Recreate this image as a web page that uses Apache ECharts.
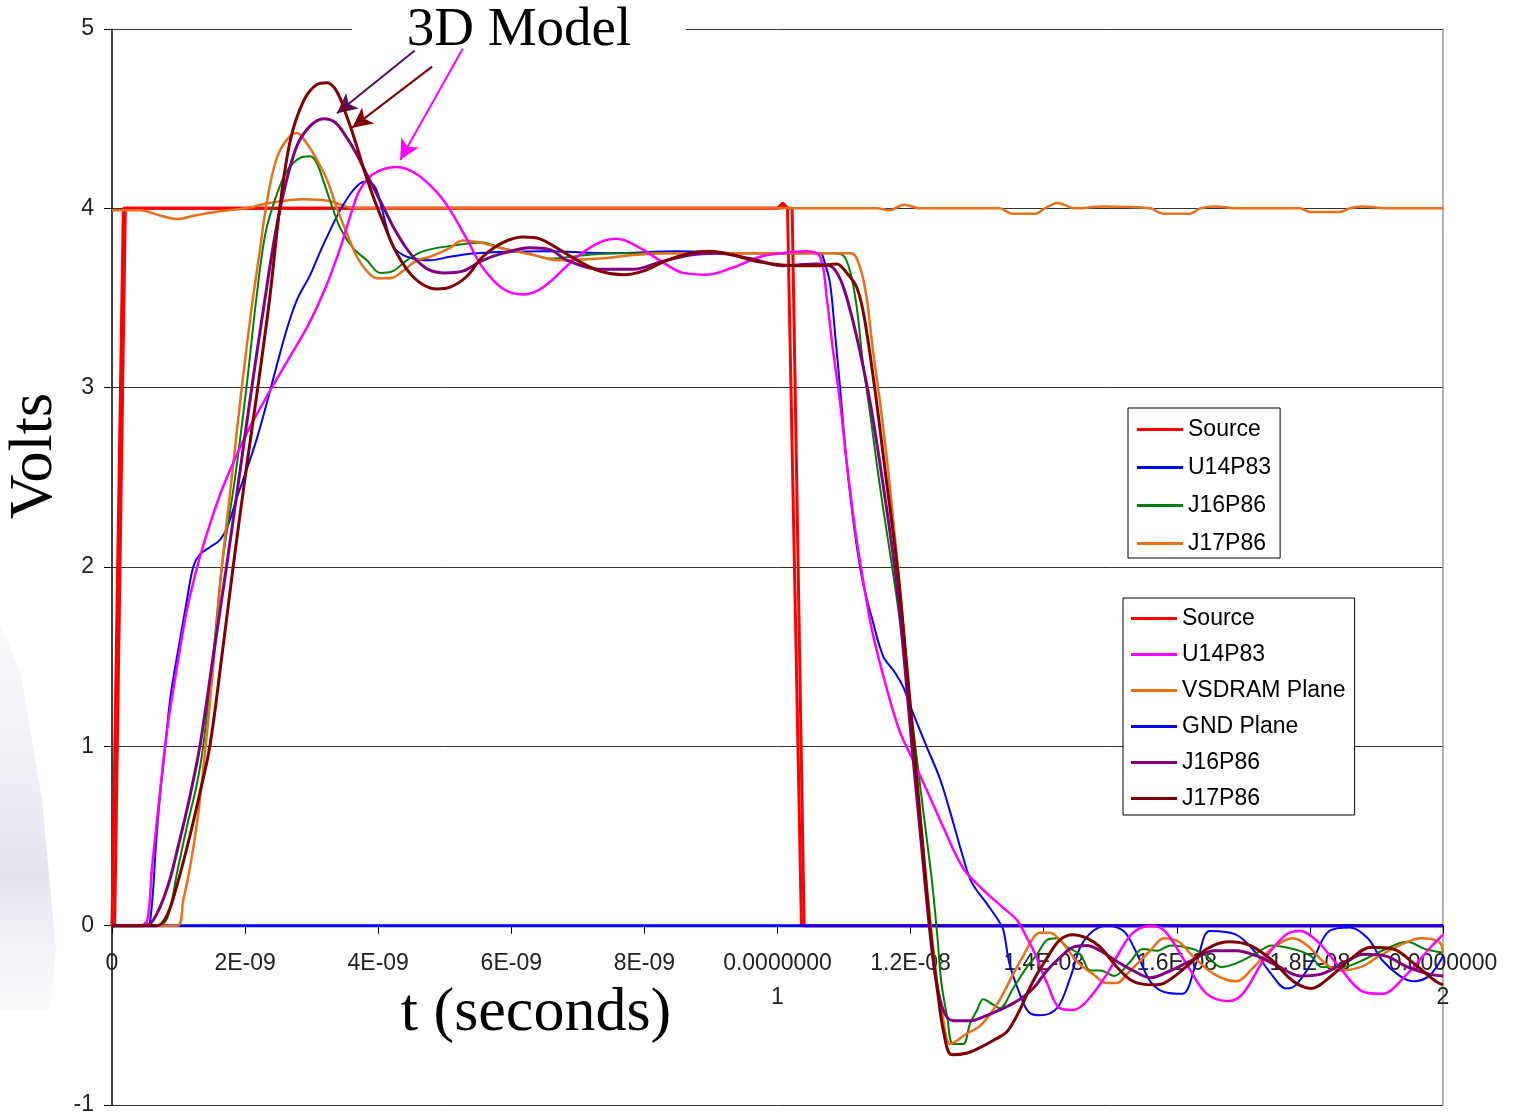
<!DOCTYPE html>
<html>
<head>
<meta charset="utf-8">
<title>3D Model vs measured</title>
<script src="https://cdn.jsdelivr.net/npm/echarts@6.0.0/dist/echarts.min.js"></script>
<style>
  html, body { margin: 0; padding: 0; background: #fff; }
  #chart { width: 1514px; height: 1115px; }
</style>
</head>
<body>
<div id="chart"></div>
<script>
// time in ns, volts
var xTickLabels = ['0', '2E-09', '4E-09', '6E-09', '8E-09', '0.0000000\n1', '1.2E-08', '1.4E-08', '1.6E-08', '1.8E-08', '0.0000000\n2'];

// measured set
var sourceMeas = [[0,0],[0.02,0],[0.17,4],[10.0,4],[10.08,4.03],[10.15,4],[10.18,4],[10.36,0],[20,0]];
var u14Meas = [[0,0],[0.53,0],[0.57,0.02],[0.62,0.21],[0.66,0.45],[0.72,0.72],[0.80,1.0],[0.88,1.28],[1.0,1.55],[1.10,1.76],[1.22,2.0],[1.32,2.07],[1.47,2.11],[1.62,2.15],[1.73,2.22],[1.88,2.39],[2.03,2.55],[2.18,2.72],[2.33,2.92],[2.48,3.13],[2.63,3.33],[2.78,3.49],[2.98,3.63],[3.13,3.76],[3.28,3.88],[3.43,3.99],[3.58,4.08],[3.73,4.14],[3.83,4.15],[3.95,4.12],[4.04,4.02],[4.13,3.89],[4.22,3.79],[4.43,3.73],[4.78,3.71],[5.08,3.73],[5.48,3.75],[6.5,3.76],[7.5,3.75],[8.5,3.76],[9.5,3.75],[10.64,3.75],[10.70,3.71],[10.79,3.58],[10.86,3.32],[10.94,3.00],[11.04,2.58],[11.16,2.20],[11.28,1.92],[11.43,1.70],[11.59,1.50],[11.75,1.42],[11.89,1.33],[12.02,1.20],[12.25,0.99],[12.44,0.82],[12.59,0.64],[12.79,0.38],[12.92,0.24],[13.15,0.12],[13.30,0.04],[13.39,-0.02],[13.49,-0.22],[13.64,-0.38],[13.77,-0.48],[13.94,-0.50],[14.20,-0.46],[14.40,-0.29],[14.55,-0.12],[14.74,-0.03],[14.95,0.0],[15.2,-0.03],[15.38,-0.14],[15.60,-0.31],[15.81,-0.37],[16.08,-0.38],[16.3,-0.2],[16.50,-0.03],[16.89,-0.05],[17.16,-0.14],[17.42,-0.27],[17.64,-0.35],[17.79,-0.33],[18.02,-0.21],[18.29,-0.03],[18.60,-0.01],[18.87,-0.07],[19.08,-0.19],[19.35,-0.28],[19.56,-0.31],[19.79,-0.28],[20.0,-0.17]];
var j16Meas = [[0,0],[0.68,0],[0.83,0.04],[0.98,0.30],[1.13,0.56],[1.27,0.78],[1.37,1.0],[1.52,1.5],[1.65,2.0],[1.85,2.5],[2.02,3.0],[2.17,3.5],[2.30,3.85],[2.45,4.05],[2.63,4.21],[2.82,4.28],[2.98,4.29],[3.08,4.25],[3.17,4.16],[3.28,4.04],[3.43,3.89],[3.62,3.78],[3.83,3.71],[4.03,3.64],[4.22,3.65],[4.43,3.71],[4.67,3.76],[5.08,3.79],[5.57,3.81],[5.83,3.78],[6.33,3.74],[6.58,3.72],[7.14,3.74],[7.63,3.75],[8.84,3.75],[10.34,3.75],[10.83,3.75],[10.98,3.74],[11.09,3.65],[11.19,3.45],[11.28,3.15],[11.39,2.86],[11.49,2.58],[11.59,2.32],[11.69,2.08],[11.84,1.70],[11.99,1.25],[12.17,0.70],[12.32,0.25],[12.40,-0.05],[12.46,-0.31],[12.55,-0.51],[12.64,-0.66],[12.79,-0.66],[12.89,-0.55],[13.00,-0.47],[13.09,-0.41],[13.24,-0.44],[13.34,-0.46],[13.54,-0.35],[13.75,-0.23],[13.90,-0.16],[14.05,-0.08],[14.20,-0.07],[14.35,-0.12],[14.55,-0.16],[14.70,-0.25],[14.85,-0.25],[15.06,-0.28],[15.28,-0.21],[15.49,-0.13],[15.70,-0.14],[15.91,-0.11],[16.24,-0.13],[16.45,-0.17],[16.66,-0.23],[16.89,-0.21],[17.21,-0.15],[17.42,-0.11],[17.75,-0.13],[18.02,-0.17],[18.17,-0.23],[18.50,-0.23],[18.81,-0.19],[19.14,-0.13],[19.46,-0.09],[19.73,-0.13],[20.0,-0.15]];
var j17Meas = [[0,0],[0.98,0],[1.07,0.14],[1.17,0.32],[1.28,0.58],[1.37,0.87],[1.46,1.2],[1.55,1.57],[1.65,2.0],[1.80,2.5],[1.95,3.0],[2.10,3.45],[2.22,3.76],[2.32,4.02],[2.45,4.25],[2.60,4.37],[2.78,4.42],[2.93,4.36],[3.08,4.27],[3.23,4.16],[3.38,4.0],[3.53,3.86],[3.68,3.73],[3.83,3.65],[3.98,3.61],[4.18,3.61],[4.37,3.65],[4.58,3.71],[4.78,3.73],[5.08,3.78],[5.27,3.82],[5.53,3.81],[5.83,3.78],[6.33,3.74],[6.73,3.71],[7.33,3.72],[7.83,3.74],[8.34,3.75],[11.10,3.75],[11.24,3.67],[11.34,3.50],[11.43,3.22],[11.54,2.92],[11.65,2.58],[11.75,2.22],[11.86,1.80],[11.99,1.22],[12.14,0.62],[12.29,0.05],[12.40,-0.32],[12.49,-0.52],[12.59,-0.66],[12.70,-0.64],[12.85,-0.60],[13.04,-0.56],[13.24,-0.47],[13.39,-0.38],[13.54,-0.27],[13.69,-0.17],[13.84,-0.07],[13.94,-0.04],[14.09,-0.04],[14.29,-0.10],[14.50,-0.20],[14.74,-0.27],[14.95,-0.32],[15.10,-0.32],[15.25,-0.27],[15.6,-0.14],[15.81,-0.07],[16.03,-0.09],[16.24,-0.17],[16.56,-0.27],[16.89,-0.31],[17.16,-0.23],[17.42,-0.13],[17.75,-0.07],[17.96,-0.11],[18.23,-0.21],[18.44,-0.25],[18.77,-0.23],[19.04,-0.17],[19.35,-0.11],[19.67,-0.07],[19.94,-0.09],[20.0,-0.15]];

// 3D model set
var sourceModel = [[0,0],[0.04,0],[0.20,4],[10.0,4],[10.08,4.02],[10.16,4],[10.22,4],[10.40,0],[20,0]];
var u14Model = [[0,0],[0.42,0],[0.53,0.03],[0.60,0.32],[0.68,0.60],[0.76,0.88],[0.85,1.15],[0.98,1.45],[1.12,1.75],[1.28,2.0],[1.43,2.19],[1.62,2.40],[1.82,2.58],[2.07,2.78],[2.37,2.98],[2.67,3.17],[2.95,3.35],[3.20,3.55],[3.43,3.78],[3.60,3.98],[3.72,4.10],[3.92,4.19],[4.28,4.23],[4.58,4.19],[4.88,4.09],[5.08,3.99],[5.33,3.83],[5.57,3.67],[5.88,3.55],[6.18,3.52],[6.48,3.56],[6.99,3.73],[7.33,3.81],[7.59,3.83],[7.93,3.78],[8.23,3.71],[8.58,3.64],[8.94,3.63],[9.33,3.67],[9.74,3.73],[10.08,3.75],[10.44,3.76],[10.64,3.73],[10.74,3.50],[10.83,3.22],[10.94,2.92],[11.04,2.58],[11.17,2.20],[11.28,1.94],[11.43,1.63],[11.65,1.31],[11.84,1.08],[12.04,0.92],[12.25,0.75],[12.49,0.55],[12.79,0.32],[13.09,0.20],[13.39,0.10],[13.60,0.03],[13.75,-0.07],[13.86,-0.15],[14.05,-0.32],[14.24,-0.46],[14.44,-0.47],[14.65,-0.42],[14.95,-0.27],[15.15,-0.14],[15.34,-0.04],[15.60,0.0],[15.82,-0.03],[16.14,-0.21],[16.45,-0.38],[16.78,-0.42],[16.99,-0.38],[17.31,-0.19],[17.64,-0.05],[17.85,-0.03],[18.12,-0.09],[18.44,-0.23],[18.81,-0.37],[19.08,-0.38],[19.46,-0.27],[19.79,-0.13],[20.0,-0.05]];
var vsdramPlane = [[0,3.99],[0.42,3.99],[0.72,3.96],[0.98,3.94],[1.25,3.96],[1.55,3.98],[2.0,4.0],[2.37,4.03],[2.87,4.05],[3.28,4.04],[3.65,4.0],[11.49,4.0],[11.69,3.99],[11.90,4.02],[12.14,4.0],[13.34,4.0],[13.52,3.97],[13.87,3.97],[14.02,4.0],[14.21,4.03],[14.47,4.0],[14.89,4.01],[15.60,4.0],[15.79,3.97],[16.20,3.97],[16.35,4.0],[16.56,4.01],[16.95,4.0],[17.85,4.0],[18.00,3.98],[18.45,3.98],[18.60,4.0],[18.78,4.01],[19.2,4.0],[20,4.0]];
var gndPlane = [[0,0],[20,0]];
var j16Model = [[0,0],[0.47,0],[0.62,0.03],[0.83,0.21],[1.0,0.45],[1.17,0.72],[1.32,1.0],[1.52,1.5],[1.72,2.0],[1.91,2.5],[2.10,3.0],[2.28,3.45],[2.45,3.85],[2.60,4.12],[2.78,4.35],[2.98,4.46],[3.18,4.50],[3.35,4.48],[3.50,4.41],[3.65,4.32],[3.80,4.21],[3.95,4.10],[4.10,3.99],[4.25,3.88],[4.40,3.79],[4.55,3.72],[4.75,3.66],[5.0,3.64],[5.27,3.65],[5.57,3.71],[5.88,3.75],[6.28,3.78],[6.58,3.77],[6.84,3.71],[7.33,3.66],[7.83,3.66],[8.23,3.70],[8.69,3.74],[9.09,3.75],[9.59,3.72],[10.08,3.68],[10.59,3.69],[10.79,3.68],[10.95,3.60],[11.10,3.42],[11.24,3.20],[11.40,2.90],[11.57,2.50],[11.76,2.0],[11.90,1.5],[12.02,1.0],[12.15,0.5],[12.28,0.0],[12.38,-0.30],[12.50,-0.48],[12.64,-0.53],[12.89,-0.53],[13.15,-0.50],[13.34,-0.47],[13.60,-0.42],[13.84,-0.35],[14.05,-0.25],[14.24,-0.18],[14.44,-0.12],[14.65,-0.11],[14.85,-0.14],[15.10,-0.20],[15.34,-0.25],[15.60,-0.29],[15.91,-0.25],[16.24,-0.19],[16.56,-0.14],[16.89,-0.14],[17.21,-0.17],[17.54,-0.23],[17.85,-0.28],[18.17,-0.27],[18.50,-0.21],[18.81,-0.16],[19.14,-0.17],[19.46,-0.23],[19.79,-0.27],[20.0,-0.28]];
var j17Model = [[0,0],[0.68,0],[0.83,0.06],[0.98,0.23],[1.17,0.50],[1.32,0.74],[1.47,1.0],[1.65,1.5],[1.82,2.0],[2.0,2.5],[2.19,3.0],[2.37,3.5],[2.52,4.0],[2.68,4.38],[2.88,4.60],[3.08,4.69],[3.23,4.70],[3.38,4.65],[3.52,4.52],[3.65,4.38],[3.80,4.20],[3.95,4.04],[4.10,3.90],[4.25,3.77],[4.45,3.65],[4.65,3.58],[4.88,3.55],[5.08,3.56],[5.33,3.62],[5.57,3.73],[5.88,3.81],[6.18,3.84],[6.43,3.83],[6.68,3.78],[6.99,3.71],[7.33,3.65],[7.68,3.63],[7.98,3.65],[8.34,3.71],[8.69,3.75],[8.99,3.76],[9.33,3.74],[9.74,3.70],[10.34,3.68],[10.64,3.68],[10.89,3.69],[11.04,3.64],[11.19,3.56],[11.30,3.40],[11.46,3.0],[11.63,2.5],[11.80,2.0],[11.93,1.5],[12.05,1.0],[12.17,0.5],[12.29,0.0],[12.40,-0.35],[12.50,-0.60],[12.62,-0.72],[12.85,-0.71],[13.04,-0.68],[13.24,-0.64],[13.45,-0.59],[13.64,-0.47],[13.84,-0.31],[14.05,-0.18],[14.24,-0.08],[14.44,-0.05],[14.65,-0.07],[14.85,-0.12],[15.10,-0.23],[15.34,-0.31],[15.64,-0.33],[15.81,-0.32],[16.14,-0.23],[16.45,-0.13],[16.78,-0.09],[17.10,-0.11],[17.42,-0.19],[17.75,-0.31],[18.02,-0.35],[18.29,-0.29],[18.60,-0.19],[18.92,-0.12],[19.25,-0.13],[19.56,-0.21],[19.89,-0.31],[20.0,-0.33]];

// "3D Model" arrows: [from, to] in data units
var arrowJ16 = [[4.55, 4.88], [3.38, 4.53]];
var arrowJ17 = [[4.81, 4.79], [3.61, 4.45]];
var arrowU14 = [[5.27, 4.89], [4.33, 4.27]];

var SANS = "'Liberation Sans', Arial, sans-serif";
var SERIF = "'Liberation Serif', 'Times New Roman', serif";

var chart = echarts.init(document.getElementById('chart'));

function lineSeries(name, data, color, width, z, smooth) {
    return {
        name: name,
        type: 'line',
        data: data,
        symbol: 'none',
        smooth: smooth === false ? false : 0.35,
        lineStyle: { color: color, width: width },
        itemStyle: { color: color },
        z: z,
        silent: true,
        animation: false
    };
}

function arrow(pts, color) {
    return {
        silent: true,
        animation: false,
        symbol: ['none', 'arrow'],
        symbolSize: [15, 20],
        label: { show: false },
        lineStyle: { color: color, width: 2, type: 'solid' },
        data: [[{ coord: pts[0] }, { coord: pts[1] }]]
    };
}

var series = [
    lineSeries('Source', sourceMeas, '#ff0000', 3, 2, false),
    lineSeries('Source ', sourceModel, '#ff0000', 3, 2, false),
    lineSeries('GND Plane', gndPlane, '#0000ff', 3, 3, false),
    lineSeries('VSDRAM Plane', vsdramPlane, '#e8701a', 2.5, 3),
    lineSeries('U14P83', u14Meas, '#0000ff', 2, 4),
    lineSeries('J16P86', j16Meas, '#008000', 2, 4),
    lineSeries('J17P86', j17Meas, '#e8701a', 2.5, 4),
    lineSeries('U14P83 ', u14Model, '#ff00ff', 2.5, 5),
    lineSeries('J16P86 ', j16Model, '#800080', 3, 6),
    lineSeries('J17P86 ', j17Model, '#800000', 3, 7)
];
series[7].markLine = arrow(arrowU14, '#ff00ff');
series[8].markLine = arrow(arrowJ16, '#5a0a5a');
series[9].markLine = arrow(arrowJ17, '#800000');

var legendBase = {
    orient: 'vertical',
    icon: 'rect',
    itemWidth: 46,
    itemHeight: 3,
    selectedMode: false,
    backgroundColor: '#fff',
    borderColor: '#000',
    borderWidth: 1,
    borderRadius: 0,
    textStyle: { fontFamily: SANS, fontSize: 23, lineHeight: 23, color: '#000' },
    formatter: function (name) { return name.trim(); }
};

function xLabel(v) {
    var k = Math.round(Number(v) / 2);
    var s = xTickLabels[k];
    return s == null ? String(v) : s;
}

var yMin = -1, yMax = 5;
var gridTop = 29, gridBottom = 10, chartH = 1115;
// x axis sits on the 0 line: shift it up from the grid bottom
var plotH = chartH - gridTop - gridBottom;
var xAxisOffset = -plotH * (0 - yMin) / (yMax - yMin);

var option = {
    backgroundColor: '#fff',
    animation: false,
    grid: { left: 112, right: 71, top: gridTop, bottom: gridBottom, outerBoundsMode: 'none' },
    xAxis: {
        type: 'value',
        position: 'bottom',
        offset: xAxisOffset,
        min: 0,
        max: 20,
        interval: 2,
        axisLine: { onZero: false, lineStyle: { color: '#000', width: 1 } },
        axisTick: { show: true, length: 8, lineStyle: { color: '#000' } },
        axisLabel: {
            show: true,
            margin: 21,
            fontFamily: SANS,
            fontSize: 23,
            lineHeight: 34,
            color: '#222',
            formatter: xLabel
        },
        splitLine: { show: false }
    },
    yAxis: [{
        type: 'value',
        min: yMin,
        max: yMax,
        interval: 1,
        axisLine: { show: true, lineStyle: { color: '#000', width: 1.5 } },
        axisTick: { show: true, length: 8, lineStyle: { color: '#000' } },
        axisLabel: { margin: 18, fontFamily: SANS, fontSize: 23, color: '#222' },
        splitLine: { show: true, lineStyle: { color: '#333', width: 1 } }
    }, {
        type: 'value',
        position: 'right',
        min: yMin,
        max: yMax,
        interval: 1,
        axisLine: { show: true, lineStyle: { color: '#999', width: 1.5 } },
        axisTick: { show: false },
        axisLabel: { show: false },
        splitLine: { show: false }
    }],
    legend: [
        Object.assign({}, legendBase, {
            left: 1128, top: 408,
            padding: [10, 9, 3, 9],
            itemGap: 15,
            data: ['Source', 'U14P83', 'J16P86', 'J17P86']
        }),
        Object.assign({}, legendBase, {
            left: 1123, top: 598,
            padding: [9, 9, 5, 8],
            itemGap: 13,
            data: ['Source ', 'U14P83 ', 'VSDRAM Plane', 'GND Plane', 'J16P86 ', 'J17P86 ']
        })
    ],
    graphic: [
        {
            type: 'polygon',
            z: -10,
            silent: true,
            shape: { points: [[0, 625], [20, 670], [42, 800], [56, 950], [50, 1010], [0, 1010]] },
            style: {
                fill: new echarts.graphic.LinearGradient(0, 0, 0, 1, [
                    { offset: 0, color: 'rgba(228,225,238,0.2)' },
                    { offset: 0.65, color: 'rgba(218,214,230,0.7)' },
                    { offset: 1, color: 'rgba(238,236,244,0.3)' }
                ])
            }
        },
        {
            type: 'rect',
            z: 100,
            silent: true,
            shape: { x: 352, y: 10, width: 334, height: 36 },
            style: { fill: '#fff' }
        },
        {
            type: 'text',
            z: 101,
            silent: true,
            x: 519,
            y: 31,
            style: {
                text: '3D Model',
                fontFamily: SERIF,
                fontSize: 55,
                fill: '#000',
                align: 'center',
                verticalAlign: 'middle'
            }
        },
        {
            type: 'text',
            z: 101,
            silent: true,
            x: 35,
            y: 456,
            rotation: Math.PI / 2,
            style: {
                text: 'Volts',
                fontFamily: SERIF,
                fontSize: 62,
                fill: '#000',
                align: 'center',
                verticalAlign: 'middle'
            }
        },
        {
            type: 'text',
            z: 101,
            silent: true,
            x: 536,
            y: 1014,
            style: {
                text: 't (seconds)',
                fontFamily: SERIF,
                fontSize: 62,
                fill: '#000',
                align: 'center',
                verticalAlign: 'middle'
            }
        }
    ],
    series: series
};

chart.setOption(option);
</script>
</body>
</html>
